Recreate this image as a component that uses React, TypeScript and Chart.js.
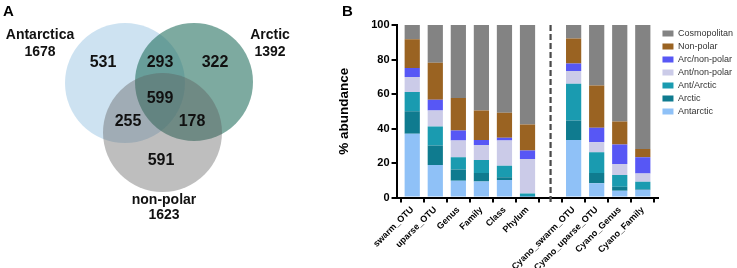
import React, { useEffect, useRef } from 'react';
import { Chart, registerables } from 'chart.js';

Chart.register(...registerables);

const FONT = '"Liberation Sans", Arial, Helvetica, sans-serif';

// ---------- Panel A: Venn data ----------
const SET_NAMES = ['Antarctica', 'Arctic', 'non-polar'];
const SET_TOTALS = [1678, 1392, 1623];
const REGION_COUNTS = [531, 293, 322, 599, 255, 178, 591];

// ---------- Panel B: stacked bar data ----------
const CATEGORIES = [
  'swarm_OTU', 'uparse_OTU', 'Genus', 'Family', 'Class', 'Phylum', '',
  'Cyano_swarm_OTU', 'Cyano_uparse_OTU', 'Cyano_Genus', 'Cyano_Family',
];
const ANTARCTIC = [37.0, 18.8, 9.7, 9.3, 10.1, 0.3, null, 33.4, 8.3, 3.9, 4.5];
const ARCTIC = [13.0, 11.3, 6.6, 4.9, 1.6, 0.3, null, 11.3, 5.9, 2.3, 0.4];
const ANT_ARCTIC = [11.2, 11.1, 7.0, 7.5, 6.7, 1.7, null, 21.3, 12.0, 6.8, 4.2];
const ANT_NONPOLAR = [8.7, 9.3, 9.7, 8.8, 14.6, 20.0, null, 7.4, 5.8, 6.4, 4.9];
const ARC_NONPOLAR = [5.2, 6.2, 5.8, 2.9, 1.6, 4.9, null, 4.3, 8.4, 11.3, 9.3];
const NON_POLAR = [16.6, 21.4, 18.9, 17.1, 14.5, 15.1, null, 14.5, 24.6, 13.4, 4.9];
const COSMOPOLITAN = [8.3, 21.9, 42.3, 49.5, 50.9, 57.7, null, 7.8, 35.0, 55.9, 71.8];
const Y_TICKS = [0, 20, 40, 60, 80, 100];

// ---------- Layout / style (not data) ----------
const VENN_CIRCLES = [
  { x: 125, y: 83, r: 60 },
  { x: 194, y: 82, r: 59 },
  { x: 162.5, y: 132.5, r: 59.5 },
];
const VENN_FILLS = ['rgba(150,195,225,0.48)', 'rgba(38,113,97,0.6)', 'rgba(92,92,92,0.4)'];
const REGION_POS = [
  { x: 103, y: 63 }, { x: 160, y: 63 }, { x: 215, y: 63 }, { x: 160, y: 99 },
  { x: 128, y: 122 }, { x: 192, y: 122 }, { x: 161, y: 161 },
];
const SET_NAME_POS = [{ x: 40, y: 35 }, { x: 270, y: 35 }, { x: 164, y: 200 }];
const SET_TOTAL_POS = [{ x: 40, y: 52 }, { x: 270, y: 52 }, { x: 164, y: 215 }];

const SERIES = [
  { name: 'Antarctic', values: ANTARCTIC, color: '#8fc1f7' },
  { name: 'Arctic', values: ARCTIC, color: '#0f7b8f' },
  { name: 'Ant/Arctic', values: ANT_ARCTIC, color: '#1a9bb0' },
  { name: 'Ant/non-polar', values: ANT_NONPOLAR, color: '#cbcbe8' },
  { name: 'Arc/non-polar', values: ARC_NONPOLAR, color: '#5757f5' },
  { name: 'Non-polar', values: NON_POLAR, color: '#9a6322' },
  { name: 'Cosmopolitan', values: COSMOPOLITAN, color: '#838383' },
];
const DIVIDER_INDEX = CATEGORIES.indexOf('');

const vennLabels = {
  id: 'vennLabels',
  afterDatasetsDraw(chart: any) {
    const { ctx, scales } = chart;
    const sx = scales.x, sy = scales.y;
    ctx.save();
    ctx.fillStyle = '#111';
    ctx.textAlign = 'center';
    ctx.textBaseline = 'middle';
    ctx.font = `bold 16px ${FONT}`;
    REGION_COUNTS.forEach((n, i) => {
      ctx.fillText(String(n), sx.getPixelForValue(REGION_POS[i].x), sy.getPixelForValue(REGION_POS[i].y));
    });
    ctx.font = `bold 14px ${FONT}`;
    SET_NAMES.forEach((name, i) => {
      ctx.fillText(name, sx.getPixelForValue(SET_NAME_POS[i].x), sy.getPixelForValue(SET_NAME_POS[i].y));
      ctx.fillText(String(SET_TOTALS[i]), sx.getPixelForValue(SET_TOTAL_POS[i].x), sy.getPixelForValue(SET_TOTAL_POS[i].y));
    });
    ctx.restore();
  },
};

const dividerPlugin = {
  id: 'divider',
  afterDatasetsDraw(chart: any) {
    const { ctx, scales } = chart;
    const x = scales.x.getPixelForValue(DIVIDER_INDEX);
    const yTop = scales.y.getPixelForValue(Y_TICKS[Y_TICKS.length - 1]);
    const yBot = scales.y.getPixelForValue(Y_TICKS[0]) + 5;
    ctx.save();
    ctx.strokeStyle = '#4a4a4a';
    ctx.lineWidth = 2.2;
    ctx.setLineDash([6, 3]);
    ctx.beginPath();
    ctx.moveTo(x, yTop);
    ctx.lineTo(x, yBot);
    ctx.stroke();
    ctx.restore();
  },
};

export default function App() {
  const vennRef = useRef<HTMLCanvasElement>(null);
  const barRef = useRef<HTMLCanvasElement>(null);

  useEffect(() => {
    document.body.style.margin = '0';
    document.body.style.overflow = 'hidden';

    const venn = new Chart(vennRef.current as HTMLCanvasElement, {
      type: 'bubble',
      data: {
        datasets: [
          {
            data: VENN_CIRCLES.map((c) => ({ x: c.x, y: c.y, r: c.r })),
            backgroundColor: VENN_FILLS,
            borderWidth: 0,
            hoverRadius: 0,
          } as any,
        ],
      },
      options: {
        animation: false,
        responsive: false,
        events: [],
        layout: { padding: 0, autoPadding: false },
        clip: false as any,
        scales: {
          x: { type: 'linear', min: 0, max: 330, display: false },
          y: { type: 'linear', min: 0, max: 268, reverse: true, display: false },
        },
        plugins: { legend: { display: false }, tooltip: { enabled: false } },
      } as any,
      plugins: [vennLabels],
    });

    const bar = new Chart(barRef.current as HTMLCanvasElement, {
      type: 'bar',
      data: {
        datasets: SERIES.map((s) => ({
          label: s.name,
          data: CATEGORIES.map((_, i) => (s.values[i] == null ? null : { x: i, y: s.values[i] })).filter(Boolean) as any,
          backgroundColor: s.color,
          borderWidth: 0,
          barPercentage: 0.66,
          categoryPercentage: 1,
        })),
      },
      options: {
        animation: false,
        responsive: false,
        events: [],
        layout: { padding: { top: 25, right: 0, left: 0, bottom: 0 } },
        scales: {
          x: {
            type: 'linear',
            stacked: true,
            bounds: 'data',
            min: -0.68,
            max: CATEGORIES.length - 1 + 0.68,
            offset: false,
            afterBuildTicks: (axis: any) => {
              axis.ticks = CATEGORIES.map((_, i) => ({ value: i }));
            },
            ticks: {
              autoSkip: false,
              minRotation: 45,
              maxRotation: 45,
              padding: 2,
              color: '#000',
              font: { family: FONT, size: 9, weight: 'bold' },
              callback: (v: any) => CATEGORIES[v] ?? '',
            },
            grid: { drawOnChartArea: false, drawTicks: true, tickLength: 5, color: '#000', lineWidth: 2 },
            border: { display: true, color: '#000', width: 2 },
          },
          y: {
            type: 'linear',
            stacked: true,
            min: Y_TICKS[0],
            max: Y_TICKS[Y_TICKS.length - 1],
            afterBuildTicks: (axis: any) => {
              axis.ticks = Y_TICKS.map((v) => ({ value: v }));
            },
            ticks: {
              padding: 2,
              color: '#000',
              font: { family: FONT, size: 11, weight: 'bold' },
            },
            grid: { drawOnChartArea: false, drawTicks: true, tickLength: 5, color: '#000', lineWidth: 2 },
            border: { display: true, color: '#000', width: 2 },
            title: {
              display: true,
              text: '% abundance',
              color: '#000',
              font: { family: FONT, size: 13.5, weight: 'bold' },
              padding: { top: 6, bottom: 17 },
            },
          },
        },
        plugins: {
          legend: {
            position: 'right',
            align: 'start',
            reverse: true,
            labels: {
              boxWidth: 11,
              boxHeight: 6,
              padding: 4,
              color: '#333',
              font: { family: FONT, size: 9 },
            },
          },
          tooltip: { enabled: false },
        },
      } as any,
      plugins: [dividerPlugin],
    });

    return () => {
      venn.destroy();
      bar.destroy();
    };
  }, []);

  const letter: React.CSSProperties = {
    position: 'absolute',
    fontFamily: FONT,
    fontWeight: 'bold',
    fontSize: 15,
    lineHeight: '15px',
    color: '#000',
  };

  return (
    <div style={{ position: 'fixed', left: 0, top: 0, width: 737, height: 268, overflow: 'hidden', background: '#fff' }}>
      <canvas ref={vennRef} width={330} height={268} style={{ position: 'absolute', left: 0, top: 0, width: 330, height: 268 }} />
      <canvas ref={barRef} width={413} height={275} style={{ position: 'absolute', left: 330, top: 0, width: 413, height: 275 }} />
      <div style={{ ...letter, left: 3, top: 3 }}>A</div>
      <div style={{ ...letter, left: 342, top: 3 }}>B</div>
    </div>
  );
}
